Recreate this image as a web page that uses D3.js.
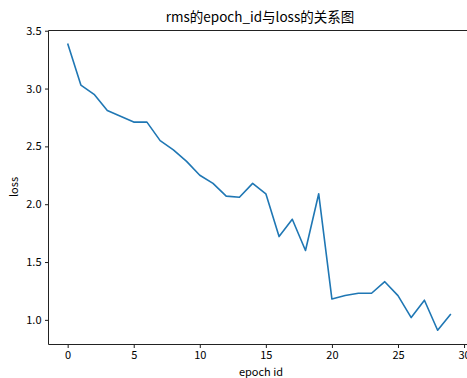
<!DOCTYPE html>
<html>
<head>
<meta charset="utf-8">
<script src="https://cdn.jsdelivr.net/npm/d3@7"></script>
<style>
  body { margin: 0; background: #fff; }
  svg { display: block; font-family: "Noto Sans CJK SC", "DejaVu Sans", sans-serif; }
</style>
</head>
<body>
<div class="chart"></div>
<script>
const width = 467,
    height = 378,
    margin = { top: 30.5, bottom: 33.5, left: 48.5 };

const epochs = d3.range(0, 30);
const losses = [3.39, 3.03, 2.95, 2.81, 2.76, 2.71, 2.71, 2.55, 2.47, 2.37,
    2.25, 2.18, 2.07, 2.06, 2.18, 2.09, 1.72, 1.87, 1.60, 2.09,
    1.18, 1.21, 1.23, 1.23, 1.33, 1.21, 1.02, 1.17, 0.91, 1.05];
const xTicks = [0, 5, 10, 15, 20, 25, 30];
const yTicks = [1.0, 1.5, 2.0, 2.5, 3.0, 3.5];

const data = epochs.map((e, i) => ({ epoch: e, loss: losses[i] }));

// x range runs past the right edge, the figure is clipped there (like the original)
const x = d3.scaleLinear()
    .domain([-1.45, 30.45])
    .range([margin.left, margin.left + 421.5]);
const y = d3.scaleLinear()
    .domain([0.787, 3.502])
    .range([height - margin.bottom, margin.top]);

const svg = d3.select(".chart")
    .append("svg")
    .attr("width", width)
    .attr("height", height);

// line
const line = d3.line()
    .x(d => x(d.epoch))
    .y(d => y(d.loss));

svg.append("path")
    .datum(data)
    .attr("fill", "none")
    .attr("stroke", "#1f77b4")
    .attr("stroke-width", 1.6)
    .attr("stroke-linejoin", "round")
    .attr("d", line);

// axes
const xAxis = d3.axisBottom(x)
    .tickValues(xTicks)
    .tickSize(3.5)
    .tickPadding(3.5)
    .tickFormat(d3.format("d"));
const yAxis = d3.axisLeft(y)
    .tickValues(yTicks)
    .tickSize(3.5)
    .tickPadding(3.5)
    .tickFormat(d3.format(".1f"));

const gx = svg.append("g")
    .attr("transform", `translate(0, ${height - margin.bottom})`)
    .call(xAxis);
const gy = svg.append("g")
    .attr("transform", `translate(${margin.left}, 0)`)
    .call(yAxis);

[gx, gy].forEach(g => {
    g.select(".domain").remove();
    g.selectAll(".tick line").attr("stroke", "#000").attr("stroke-width", 0.9);
    g.selectAll(".tick text")
        .attr("fill", "#000")
        .attr("font-size", 11)
        .attr("font-family", "\"Noto Sans CJK SC\", sans-serif");
});

// spines
const spine = (x1, y1, x2, y2) => svg.append("line")
    .attr("x1", x1).attr("y1", y1).attr("x2", x2).attr("y2", y2)
    .attr("stroke", "#222")
    .attr("stroke-width", 1);
spine(margin.left, margin.top, margin.left, height - margin.bottom);
spine(margin.left, height - margin.bottom, width, height - margin.bottom);
spine(margin.left, margin.top, width, margin.top);

// labels
svg.append("text")
    .attr("x", 260)
    .attr("y", 22)
    .attr("text-anchor", "middle")
    .attr("font-size", 13.5)
    .text("rms的epoch_id与loss的关系图");

svg.append("text")
    .attr("x", 261)
    .attr("y", 376)
    .attr("text-anchor", "middle")
    .attr("font-size", 11)
    .text("epoch id");

svg.append("text")
    .attr("transform", `translate(18, 187) rotate(-90)`)
    .attr("text-anchor", "middle")
    .attr("font-size", 11)
    .text("loss");
</script>
</body>
</html>
